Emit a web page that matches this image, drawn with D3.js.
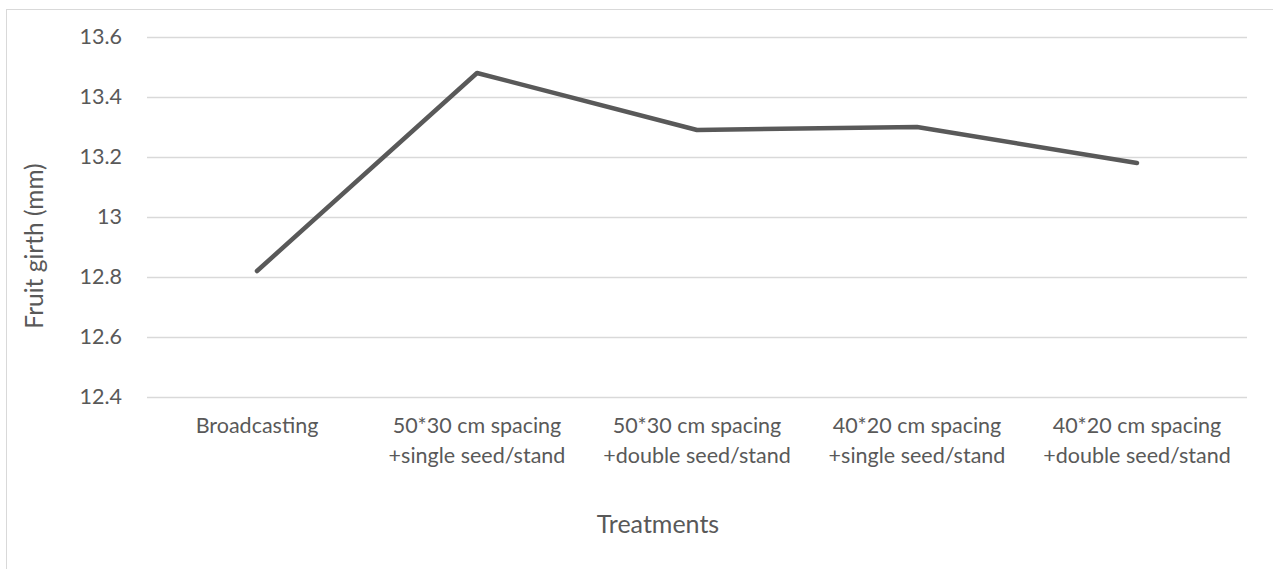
<!DOCTYPE html>
<html>
<head>
<meta charset="utf-8">
<script src="https://cdn.jsdelivr.net/npm/d3@7"></script>
<style>
  html, body { margin: 0; padding: 0; background: #fff; }
  svg { display: block; font-family: Lato, "Open Sans", sans-serif; }
</style>
</head>
<body>
<div id="chart"></div>
<script>
// Fruit girth by planting treatment
const categories = [
  ["Broadcasting"],
  ["50*30 cm spacing", "+single seed/stand"],
  ["50*30 cm spacing", "+double seed/stand"],
  ["40*20 cm spacing", "+single seed/stand"],
  ["40*20 cm spacing", "+double seed/stand"]
];
const girth = [12.82, 13.48, 13.29, 13.30, 13.18];
const yTicks = [12.4, 12.6, 12.8, 13, 13.2, 13.4, 13.6];
const yTitle = "Fruit girth (mm)";
const xTitle = "Treatments";

const W = 1273, H = 569;
const plot = { left: 147, right: 1247, top: 37, bottom: 397 };
const textColor = "#595959";

const svg = d3.select("#chart").append("svg")
  .attr("width", W).attr("height", H);

// chart area frame
svg.append("rect")
  .attr("x", 6.5).attr("y", 9.5)
  .attr("width", W + 10).attr("height", H + 10)
  .attr("fill", "none").attr("stroke", "#d9d9d9").attr("stroke-width", 1);

const x = d3.scaleBand()
  .domain(d3.range(categories.length))
  .range([plot.left, plot.right])
  .paddingInner(0).paddingOuter(0);

const y = d3.scaleLinear()
  .domain([12.4, 13.6])
  .range([plot.bottom, plot.top]);

// horizontal gridlines
svg.append("g")
  .selectAll("line")
  .data(yTicks)
  .join("line")
  .attr("x1", plot.left).attr("x2", plot.right)
  .attr("y1", d => Math.round(y(d)) + 0.5)
  .attr("y2", d => Math.round(y(d)) + 0.5)
  .attr("stroke", "#d9d9d9").attr("stroke-width", 1.3);

// y tick labels
const yAxis = d3.axisLeft(y).tickValues(yTicks).tickSize(0).tickPadding(0)
  .tickFormat(d => String(+d.toFixed(1)));
const gy = svg.append("g")
  .attr("transform", `translate(${plot.left - 25},0)`)
  .call(yAxis);
gy.select(".domain").remove();
gy.selectAll("text")
  .attr("fill", textColor)
  .style("font-size", "21.5px")
  .style("font-family", "Lato, 'Open Sans', sans-serif");

// x category labels
const xl = svg.append("g")
  .selectAll("text")
  .data(categories)
  .join("text")
  .attr("x", (d, i) => x(i) + x.bandwidth() / 2)
  .attr("y", 433)
  .attr("text-anchor", "middle")
  .attr("fill", textColor)
  .style("font-size", "21.5px");
xl.selectAll("tspan")
  .data(d => d)
  .join("tspan")
  .attr("x", function () { return d3.select(this.parentNode).attr("x"); })
  .attr("dy", (d, i) => i === 0 ? 0 : 30)
  .text(d => d);

// line series
const line = d3.line()
  .x((d, i) => x(i) + x.bandwidth() / 2)
  .y(d => y(d));
svg.append("path")
  .datum(girth)
  .attr("d", line)
  .attr("fill", "none")
  .attr("stroke", "#595959")
  .attr("stroke-width", 4.5)
  .attr("stroke-linecap", "round")
  .attr("stroke-linejoin", "round");

// axis titles
svg.append("text")
  .attr("transform", "translate(43,246) rotate(-90)")
  .attr("text-anchor", "middle")
  .attr("fill", textColor)
  .style("font-size", "24.5px")
  .text(yTitle);

svg.append("text")
  .attr("x", 658)
  .attr("y", 533)
  .attr("text-anchor", "middle")
  .attr("fill", textColor)
  .style("font-size", "25px")
  .text(xTitle);
</script>
</body>
</html>
